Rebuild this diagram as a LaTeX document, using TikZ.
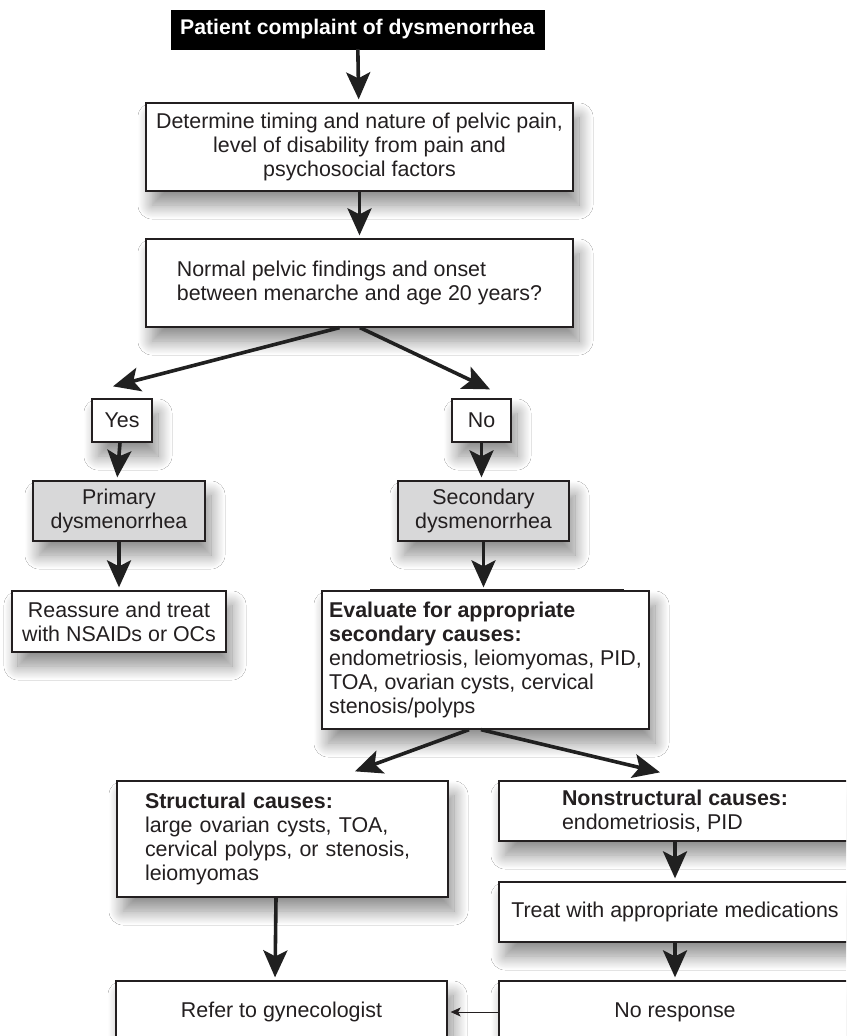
\documentclass[tikz,border=0pt]{standalone}
\usepackage{fontspec}
\setmainfont{Liberation Sans}
\usetikzlibrary{arrows.meta,shadows.blur,calc}
\definecolor{ink}{HTML}{231F20}
\definecolor{boxgray}{HTML}{D8D8D9}
\definecolor{shaft}{HTML}{202020}
\begin{document}
\begin{tikzpicture}[x=1pt,y=-1pt,
  every node/.style={font=\fontsize{21.4}{24}\selectfont, text=ink},
  box/.style={draw=ink, line width=1.3pt, fill=white, rectangle, inner sep=0pt,
    blur shadow={shadow xshift=6pt, shadow yshift=-14pt, shadow blur radius=14pt,
      shadow blur steps=16, shadow opacity=45}},
  graybox/.style={box, fill=boxgray},
  flow/.style={draw=shaft, line width=3.6pt, -{Stealth[length=27pt,width=24pt,inset=6pt]}, shorten >=3pt},
  thinflow/.style={draw=ink, line width=1pt, -{Stealth[length=10pt,width=9pt,inset=2.5pt]}, shorten >=3pt}
]
\clip (0,0) rectangle (846,1036);
\fill[white] (0,0) rectangle (846,1036);

\node[fill=black, draw=black, text=white, inner sep=0pt, minimum width=373pt, minimum height=39pt,
  font=\fontsize{21.2}{24}\selectfont\bfseries] (top) at (357.5,29.5) {Patient complaint of dysmenorrhea};

\node[box, minimum width=427pt, minimum height=88pt, align=center] (d) at (359.5,147)
  {Determine timing and nature of pelvic pain,\\ level of disability from pain and\\ psychosocial factors};

\node[box, minimum width=427pt, minimum height=88pt, align=left] (q) at (359.5,283)
  {Normal pelvic findings and onset\\ between menarche and age 20 years?};

\node[box, minimum width=60pt, minimum height=43pt] (yes) at (122,420.5) {Yes};
\node[box, minimum width=59pt, minimum height=43pt] (no) at (481.5,420.5) {No};

\node[graybox, minimum width=172pt, minimum height=60pt, align=center] (prim) at (119,511) {Primary\\ dysmenorrhea};
\node[graybox, minimum width=171pt, minimum height=60pt, align=center] (sec) at (483.5,511) {Secondary\\ dysmenorrhea};

\node[box, minimum width=214pt, minimum height=61pt, align=center] (reas) at (119,621.5) {Reassure and treat\\ with NSAIDs or OCs};

\node[box, minimum width=327pt, minimum height=138pt, align=left] (ev) at (485.5,660)
  {\textbf{Evaluate for appropriate}\\ \textbf{secondary causes:}\\ endometriosis, leiomyomas, PID,\\ TOA, ovarian cysts, cervical\\ stenosis/polyps};
\draw[line width=3pt, ink] ($(ev.north west)+(49,0)$) -- ($(ev.north west)+(303,0)$);

\node[box, text width=275pt, inner xsep=28pt, minimum height=116pt, align=left] (st) at (282.5,839)
  {\textbf{Structural causes:}\\ large ovarian cysts, TOA,\\ cervical polyps, or stenosis,\\ leiomyomas};

\node[box, minimum width=352pt, minimum height=60pt, align=left] (ns) at (675,811)
  {\textbf{Nonstructural causes:}\\ endometriosis, PID};

\node[box, minimum width=352pt, minimum height=60pt] (tr) at (675,912) {Treat with appropriate medications};

\node[box, minimum width=352pt, minimum height=62pt] (nr) at (675,1012) {No response};
\node[box, minimum width=331pt, minimum height=62pt] (ref) at (281.5,1012) {Refer to gynecologist};

\draw[flow] (top) -- (d);
\draw[flow] (d) -- (q);
\draw[flow, shorten >=0pt] ([xshift=-20pt]q.south) -- ([xshift=-9pt,yshift=12pt]yes.north);
\draw[flow, shorten >=0pt] ([xshift=0.5pt]q.south) -- ([xshift=8.5pt,yshift=9pt]no.north);
\draw[flow] ([xshift=-2pt]yes.south) -- ([xshift=-2pt]prim.north);
\draw[flow] (no.south) -- ([xshift=-2pt]sec.north);
\draw[flow] (prim) -- (reas);
\draw[flow] (sec) -- ([xshift=-2pt]ev.north);
\draw[flow, shorten >=0pt] ([xshift=-16.5pt]ev.south) -- ([xshift=72.5pt,yshift=9pt]st.north);
\draw[flow, shorten >=0pt] ([xshift=-4.5pt]ev.south) -- ([xshift=-15pt,yshift=8pt]ns.north);
\draw[flow] ([xshift=-6.5pt]st.south) -- ([xshift=-6.5pt]ref.north);
\draw[flow] (ns) -- (tr);
\draw[flow] (tr) -- (nr);
\draw[thinflow] (nr.west) -- (ref.east);
\end{tikzpicture}
\end{document}
